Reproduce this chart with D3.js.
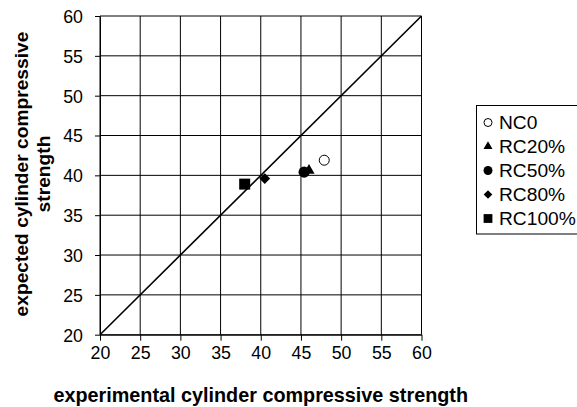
<!DOCTYPE html>
<html>
<head>
<meta charset="utf-8">
<script src="https://cdn.jsdelivr.net/npm/d3@7"></script>
<style>
  body { margin: 0; background: #fff; }
  svg { display: block; font-family: "Liberation Sans", Arial, sans-serif; }
</style>
</head>
<body>
<div id="chart"></div>
<script>
// data
var series = ["NC0", "RC20%", "RC50%", "RC80%", "RC100%"];
var experimental = [47.9, 46.0, 45.4, 40.5, 38.0];
var expected = [41.9, 40.6, 40.4, 39.6, 38.9];
var shapes = ["openCircle", "triangle", "circle", "diamond", "square"];
var xTicks = [20, 25, 30, 35, 40, 45, 50, 55, 60];
var yTicks = [20, 25, 30, 35, 40, 45, 50, 55, 60];

var width = 577, height = 407;
var margin = {left: 100, top: 16, right: 156, bottom: 72};

var x = d3.scaleLinear().domain([20, 60]).range([margin.left, width - margin.right + 0.5]);
var y = d3.scaleLinear().domain([20, 60]).range([height - margin.bottom - 0.3, margin.top]);

var svg = d3.select("#chart").append("svg")
  .attr("width", width)
  .attr("height", height);

// grid
svg.append("g").selectAll("line")
  .data(xTicks).enter().append("line")
  .attr("x1", function(d) { return x(d); })
  .attr("x2", function(d) { return x(d); })
  .attr("y1", y(20)).attr("y2", y(60))
  .style("stroke", "#000").style("stroke-width", 1);
svg.append("g").selectAll("line")
  .data(yTicks).enter().append("line")
  .attr("y1", function(d) { return y(d); })
  .attr("y2", function(d) { return y(d); })
  .attr("x1", x(20)).attr("x2", x(60))
  .style("stroke", "#000").style("stroke-width", 1);

// axes
var xAxis = svg.append("g")
  .attr("transform", "translate(0," + y(20) + ")")
  .call(d3.axisBottom(x).tickValues(xTicks).tickSize(6).tickPadding(6).tickSizeOuter(0));
var yAxis = svg.append("g")
  .attr("transform", "translate(" + x(20) + ",0)")
  .call(d3.axisLeft(y).tickValues(yTicks).tickSize(5).tickPadding(12).tickSizeOuter(0));
[xAxis, yAxis].forEach(function(a) {
  a.select(".domain").style("stroke", "#000");
  a.selectAll(".tick line").style("stroke", "#000");
  a.selectAll("text")
    .style("font-family", "'Liberation Sans', Arial, sans-serif")
    .style("font-size", "17.8px")
    .style("fill", "#000");
});
yAxis.selectAll("text").attr("dy", "0.36em");

// 1:1 line
svg.append("line")
  .attr("x1", x(20)).attr("y1", y(20))
  .attr("x2", x(60)).attr("y2", y(60))
  .style("stroke", "#000").style("stroke-width", 1.6);

// markers
function marker(sel, shape, s) {
  var g;
  if (shape === "openCircle") {
    g = sel.append("circle").attr("r", 5 * s).style("fill", "#fff").style("stroke", "#000").style("stroke-width", 1);
  } else if (shape === "circle") {
    g = sel.append("circle").attr("r", 5.6 * s).style("fill", "#000");
  } else if (shape === "triangle") {
    g = sel.append("path").attr("d", d3.symbol(d3.symbolTriangle, 55 * s * s)()).style("fill", "#000");
  } else if (shape === "diamond") {
    g = sel.append("path").attr("d", d3.symbol(d3.symbolSquare, 58 * s * s)())
      .attr("transform", "rotate(45)").style("fill", "#000");
  } else {
    g = sel.append("path").attr("d", d3.symbol(d3.symbolSquare, 121 * s * s)()).style("fill", "#000");
  }
  return g;
}

svg.append("g").selectAll("g")
  .data(series).enter().append("g")
  .attr("transform", function(d, i) { return "translate(" + x(experimental[i]) + "," + y(expected[i]) + ")"; })
  .each(function(d, i) { marker(d3.select(this), shapes[i], 1); });

// axis titles
svg.append("text")
  .attr("x", x(40)).attr("y", 402)
  .attr("text-anchor", "middle")
  .style("font-weight", "bold").style("font-size", "19.8px")
  .text("experimental cylinder compressive strength");

var yt = svg.append("text")
  .attr("transform", "translate(28,174) rotate(-90)")
  .attr("text-anchor", "middle")
  .style("font-weight", "bold").style("font-size", "19.2px");
yt.append("tspan").attr("x", 0).attr("y", 0).text("expected cylinder compressive");
yt.append("tspan").attr("x", 0).attr("y", 22).text("strength");

// legend
var legend = svg.append("g").attr("transform", "translate(476.5,105.5)");
legend.append("rect")
  .attr("width", 120).attr("height", 128.5)
  .style("fill", "#fff").style("stroke", "#000").style("stroke-width", 1);
var item = legend.selectAll(".item")
  .data(series).enter().append("g")
  .attr("class", "item")
  .attr("transform", function(d, i) { return "translate(0," + (17 + i * 24) + ")"; });
item.each(function(d, i) {
  var m = d3.select(this).append("g").attr("transform", "translate(11.5,0)");
  marker(m, shapes[i], 0.8);
});
item.append("text")
  .attr("x", 22.5).attr("dy", "0.36em")
  .style("font-size", "19.2px")
  .text(function(d) { return d; });
</script>
</body>
</html>
